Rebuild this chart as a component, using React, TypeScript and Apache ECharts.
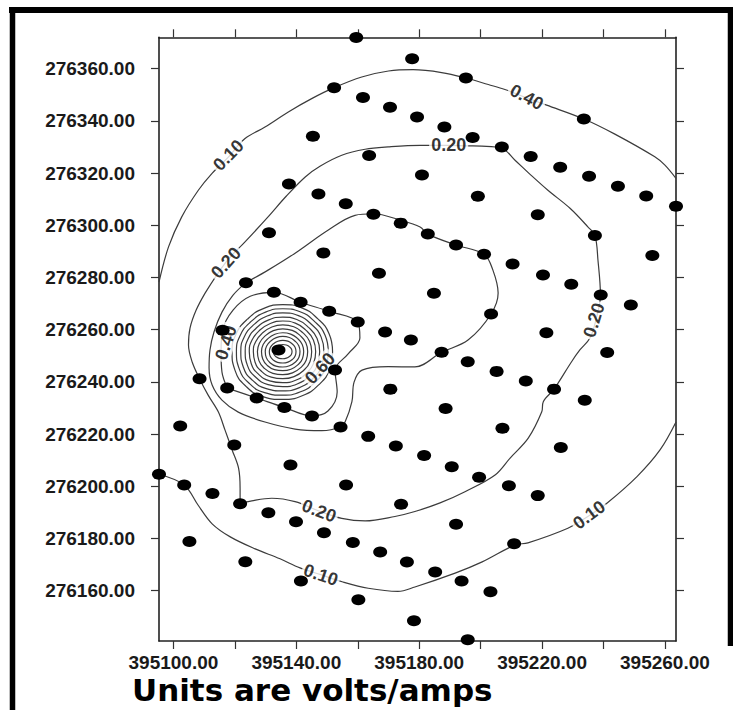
import React, { useEffect, useRef } from "react";
import * as echarts from "echarts";

const X_MIN = 395095.3;
const X_MAX = 395263.6;
const Y_MIN = 276140.7;
const Y_MAX = 276372.0;

const xTickValues = [395100, 395120, 395140, 395160, 395180, 395200, 395220, 395240, 395260];
const xLabelValues = [395100, 395140, 395180, 395220, 395260];
const yTickValues = [276160, 276180, 276200, 276220, 276240, 276260, 276280, 276300, 276320, 276340, 276360];

const stations: [number, number][] = [
  [395159.5, 276371.9], [395177.7, 276363.8], [395152.3, 276352.7], [395161.7, 276348.9], [395170.5, 276345.2],
  [395179.3, 276341.5], [395145.4, 276334.1], [395163.7, 276326.7], [395180.9, 276319.2], [395137.6, 276315.8],
  [395147.2, 276312.0], [395156.1, 276308.2], [395165.1, 276304.2], [395174.0, 276300.8], [395131.1, 276297.1],
  [395148.8, 276289.4], [395166.9, 276281.6], [395123.6, 276278.0], [395132.7, 276274.3], [395141.4, 276270.5],
  [395150.7, 276267.0], [395160.0, 276262.9], [395168.9, 276259.1], [395177.3, 276256.0], [395116.0, 276259.8],
  [395195.2, 276356.4], [395233.6, 276340.7], [395188.2, 276337.6], [395197.4, 276333.6], [395206.9, 276330.0],
  [395216.3, 276326.3], [395225.9, 276322.2], [395235.3, 276318.8], [395244.7, 276314.9], [395253.9, 276311.2],
  [395263.6, 276307.3], [395199.1, 276311.1], [395218.6, 276304.0], [395237.2, 276296.1], [395255.9, 276288.4],
  [395182.8, 276296.6], [395192.0, 276292.4], [395201.1, 276288.9], [395210.4, 276285.1], [395220.3, 276280.9],
  [395229.5, 276277.4], [395239.1, 276273.3], [395248.9, 276269.4], [395184.8, 276273.9], [395203.4, 276266.0],
  [395221.4, 276258.8], [395134.2, 276252.2], [395152.6, 276244.5], [395108.5, 276241.2], [395117.5, 276237.6],
  [395127.1, 276233.8], [395136.1, 276230.2], [395145.1, 276226.9], [395154.4, 276222.7], [395170.6, 276237.2],
  [395102.2, 276223.1], [395119.8, 276215.8], [395163.4, 276219.1], [395172.4, 276215.4], [395181.6, 276211.8],
  [395138.1, 276208.1], [395156.2, 276200.5], [395095.3, 276204.6], [395103.5, 276200.5], [395112.7, 276197.2],
  [395121.7, 276193.3], [395130.9, 276189.8], [395139.9, 276186.4], [395149.0, 276182.2], [395158.4, 276178.4],
  [395167.3, 276174.8], [395176.0, 276171.0], [395174.1, 276193.1], [395105.2, 276178.8], [395123.4, 276171.1],
  [395141.5, 276163.7], [395160.2, 276156.5], [395178.3, 276148.5], [395187.3, 276251.3], [395195.8, 276247.7],
  [395205.2, 276244.0], [395214.7, 276240.3], [395223.9, 276237.2], [395233.9, 276232.9], [395241.2, 276251.2],
  [395188.6, 276229.8], [395207.1, 276222.2], [395226.1, 276214.8], [395190.6, 276207.5], [395199.5, 276203.4],
  [395209.2, 276200.2], [395218.6, 276196.4], [395192.0, 276185.4], [395210.9, 276178.0], [395185.2, 276167.1],
  [395193.8, 276163.7], [395203.2, 276159.6], [395195.8, 276141.2],
];

// Outer contour across the top (labelled 0.10 on the left, 0.40 on the right)
const contourTop: [number, number][] = [
  [395095.3, 276278.2], [395098.4, 276291.7], [395102.7, 276303.2], [395108.1, 276313.4], [395112.5, 276319.8],
  [395117.8, 276326.0], [395123.3, 276333.2], [395129.8, 276337.6], [395137.4, 276343.4], [395145.0, 276348.5],
  [395152.3, 276352.7], [395161.3, 276356.8], [395170.0, 276359.1], [395178.0, 276359.6], [395187.3, 276358.5],
  [395195.2, 276356.4], [395202.5, 276353.9], [395207.9, 276352.0], [395215.0, 276348.8], [395221.5, 276346.0],
  [395233.6, 276340.7], [395243.7, 276334.9], [395256.7, 276326.2], [395260.0, 276323.0], [395263.6, 276317.9],
];

// Lower 0.10 contour
const contourBottom: [number, number][] = [
  [395095.3, 276204.6], [395103.5, 276200.5], [395108.0, 276192.8], [395112.6, 276185.6], [395118.5, 276180.6],
  [395126.6, 276176.0], [395134.7, 276172.2], [395141.2, 276168.7], [395147.7, 276166.2], [395154.9, 276163.4],
  [395163.4, 276160.9], [395173.1, 276159.7], [395178.6, 276161.4], [395191.7, 276166.7], [395200.5, 276171.0],
  [395211.2, 276177.5], [395215.4, 276178.3], [395228.4, 276183.9], [395234.9, 276188.4], [395241.1, 276193.5],
  [395250.9, 276203.7], [395258.4, 276213.9], [395263.6, 276224.6],
];

// Large closed 0.20 contour
const contour020: [number, number][] = [
  [395110.3, 276274.0], [395117.1, 276285.9], [395123.3, 276293.6], [395130.8, 276303.2], [395136.7, 276311.1],
  [395142.9, 276318.5], [395147.7, 276322.6], [395154.8, 276326.8], [395162.4, 276329.1], [395169.9, 276330.0],
  [395180.3, 276330.6], [395189.4, 276330.6], [395195.6, 276330.4], [395200.4, 276330.3], [395206.9, 276329.5],
  [395211.2, 276324.9], [395216.1, 276319.5], [395221.9, 276313.4], [395229.1, 276306.5], [395234.9, 276299.4],
  [395237.2, 276296.1], [395238.2, 276286.6], [395239.0, 276273.3], [395237.5, 276263.6], [395235.6, 276256.8],
  [395232.3, 276252.2], [395229.6, 276247.7], [395223.9, 276237.2], [395220.4, 276232.4], [395219.9, 276228.5],
  [395215.5, 276218.4], [395209.6, 276210.8], [395204.7, 276204.3], [395194.9, 276197.9], [395186.8, 276193.6],
  [395178.6, 276190.3], [395172.1, 276188.4], [395162.4, 276186.7], [395154.8, 276187.7], [395147.4, 276190.5],
  [395139.6, 276194.1], [395132.0, 276195.4], [395125.5, 276194.4], [395121.7, 276193.3], [395121.7, 276199.2],
  [395121.2, 276206.9], [395119.1, 276213.9], [395116.8, 276221.5], [395114.6, 276228.5], [395111.3, 276234.9],
  [395108.5, 276241.2], [395106.1, 276247.6], [395104.9, 276254.1], [395105.4, 276260.6], [395107.4, 276267.5],
  [395110.3, 276274.0],
];

// Inner closed loop reaching east
const contourInner: [number, number][] = [
  [395123.6, 276278.0], [395130.8, 276282.8], [395139.6, 276289.3], [395150.3, 276298.1], [395159.1, 276303.8],
  [395165.1, 276304.4], [395174.0, 276301.9], [395180.3, 276299.3], [395182.8, 276296.6], [395192.0, 276292.4],
  [395201.1, 276288.9], [395204.0, 276282.8], [395205.7, 276274.0], [395203.4, 276266.0], [395195.9, 276256.0],
  [395187.3, 276251.3], [395178.6, 276245.7], [395169.9, 276245.8], [395161.4, 276244.5], [395158.8, 276239.9],
  [395158.1, 276232.4], [395155.9, 276224.7], [395154.4, 276222.7], [395148.3, 276221.3], [395139.6, 276221.9],
  [395129.8, 276224.6], [395121.1, 276228.4], [395115.8, 276233.0], [395112.6, 276238.8], [395111.6, 276245.3],
  [395111.9, 276252.2], [395113.2, 276259.1], [395115.8, 276266.7], [395119.4, 276273.2], [395123.6, 276278.0],
];

// 0.40 ring around the anomaly
const contour040: [number, number][] = [
  [395117.5, 276237.6], [395127.1, 276233.8], [395136.1, 276230.2], [395145.1, 276226.9], [395150.3, 276228.8],
  [395153.3, 276236.1], [395152.6, 276244.5], [395156.8, 276250.6], [395160.7, 276256.8], [395160.0, 276262.9],
  [395150.7, 276267.0], [395141.4, 276270.5], [395132.7, 276274.3], [395125.0, 276272.8], [395119.4, 276267.5],
  [395116.0, 276259.8], [395115.5, 276251.4], [395115.8, 276243.7], [395117.5, 276237.6],
];

// Tight rings around the anomaly peak: centre, read ring half-widths and shape
const peakCenter: [number, number] = [395135.6, 276251.6];
const ringRx = [16.2, 14.8, 13.4, 12.0, 10.7, 9.4, 8.1, 6.8, 5.6, 4.3, 3.0];
const ringRy = [18.0, 16.4, 14.8, 13.2, 11.7, 10.2, 8.7, 7.2, 5.8, 4.3, 2.7];
const ringShape: [number, number][] = [
  [1.0, 0.0], [0.93, 0.38], [0.7, 0.7], [0.38, 0.93], [0.0, 1.0], [-0.38, 0.92], [-0.71, 0.69], [-0.94, 0.37],
  [-1.02, 0.0], [-0.96, -0.4], [-0.74, -0.74], [-0.4, -0.96], [0.0, -1.02], [0.39, -0.94], [0.72, -0.71],
  [0.94, -0.38], [1.0, 0.0],
];

const contourLabels: { pos: [number, number]; text: string; angle: number }[] = [
  { pos: [395117.9, 276326.8], text: "0.10", angle: 46 },
  { pos: [395215.0, 276349.1], text: "0.40", angle: -28 },
  { pos: [395189.6, 276330.6], text: "0.20", angle: 0 },
  { pos: [395117.1, 276285.6], text: "0.20", angle: 48 },
  { pos: [395236.9, 276263.6], text: "0.20", angle: 73 },
  { pos: [395147.4, 276190.5], text: "0.20", angle: -21 },
  { pos: [395148.0, 276166.0], text: "0.10", angle: -19 },
  { pos: [395235.3, 276189.0], text: "0.10", angle: 37 },
  { pos: [395117.1, 276255.0], text: "0.40", angle: 72 },
  { pos: [395147.7, 276245.2], text: "0.60", angle: 47 },
];

const FONT = "'Liberation Sans', Arial, Helvetica, sans-serif";
const TITLE_FONT = "'DejaVu Sans', 'Liberation Sans', Arial, sans-serif";
const LINE_COLOR = "#3c3c3c";

export default function App() {
  const ref = useRef<HTMLDivElement>(null);

  useEffect(() => {
    document.body.style.margin = "0";
    if (!ref.current) return;
    const chart = echarts.init(ref.current, undefined, { renderer: "svg" });

    const lineSeries = (data: [number, number][], smooth = 0.35) => ({
      type: "line",
      data,
      showSymbol: false,
      symbol: "none",
      smooth,
      silent: true,
      z: 2,
      lineStyle: { color: LINE_COLOR, width: 1.2 },
    });

    const rings = ringRx.map((rx, i) =>
      lineSeries(
        ringShape.map(([ux, uy]) => [peakCenter[0] + ux * rx, peakCenter[1] + uy * ringRy[i]] as [number, number]),
        0.5
      )
    );

    const axisLineStyle = { color: "#222", width: 1.6 };
    const tickStyle = { color: "#333", width: 1.2 };
    const labelStyle = {
      fontFamily: FONT,
      fontWeight: "bold",
      fontSize: 19,
      color: "#1a1a1a",
    };

    chart.setOption({
      animation: false,
      backgroundColor: "#fff",
      grid: { left: 159, right: 57, top: 37.3, bottom: 69, containLabel: false },
      xAxis: [
        {
          type: "value",
          min: X_MIN,
          max: X_MAX,
          position: "bottom",
          axisLine: { show: true, lineStyle: axisLineStyle },
          axisTick: { show: true, inside: false, length: 8, customValues: xTickValues, lineStyle: tickStyle },
          axisLabel: {
            show: true,
            customValues: xLabelValues,
            formatter: (v: number) => v.toFixed(2),
            margin: 12,
            ...labelStyle,
          },
          splitLine: { show: false },
        },
        {
          type: "value",
          min: X_MIN,
          max: X_MAX,
          position: "top",
          axisLine: { show: true, lineStyle: axisLineStyle },
          axisTick: { show: true, inside: false, length: 8, customValues: xTickValues, lineStyle: tickStyle },
          axisLabel: { show: false },
          splitLine: { show: false },
        },
      ],
      yAxis: [
        {
          type: "value",
          min: Y_MIN,
          max: Y_MAX,
          position: "left",
          axisLine: { show: true, lineStyle: axisLineStyle },
          axisTick: { show: true, inside: false, length: 8, customValues: yTickValues, lineStyle: tickStyle },
          axisLabel: {
            show: true,
            customValues: yTickValues,
            formatter: (v: number) => v.toFixed(2),
            margin: 24,
            ...labelStyle,
          },
          splitLine: { show: false },
        },
        {
          type: "value",
          min: Y_MIN,
          max: Y_MAX,
          position: "right",
          axisLine: { show: true, lineStyle: axisLineStyle },
          axisTick: { show: true, inside: false, length: 8, customValues: yTickValues, lineStyle: tickStyle },
          axisLabel: { show: false },
          splitLine: { show: false },
        },
      ],
      series: [
        lineSeries(contourTop),
        lineSeries(contourBottom),
        lineSeries(contour020),
        lineSeries(contourInner),
        lineSeries(contour040),
        ...rings,
        {
          type: "scatter",
          silent: true,
          z: 3,
          symbolSize: 1,
          itemStyle: { color: "rgba(0,0,0,0)" },
          clip: false,
          data: contourLabels.map((l) => ({
            value: l.pos,
            label: {
              show: true,
              position: "inside",
              formatter: l.text,
              rotate: l.angle,
              fontFamily: FONT,
              fontWeight: "bold",
              fontSize: 18,
              color: "#000",
              backgroundColor: "#fff",
              padding: [0, 2],
            },
          })),
        },
        {
          type: "scatter",
          silent: true,
          z: 4,
          clip: false,
          symbol: "circle",
          symbolSize: [14, 11],
          itemStyle: { color: "#000", opacity: 1 },
          data: stations,
        },
      ],
      graphic: [
        {
          type: "text",
          left: 132,
          top: 674,
          z: 50,
          style: {
            text: "Units are volts/amps",
            fontFamily: TITLE_FONT,
            fontWeight: "bold",
            fontSize: 31,
            fill: "#000",
          },
        },
        {
          type: "rect",
          z: 90,
          shape: { x: 716, y: 648, width: 17, height: 28 },
          style: { fill: "#fff" },
        },
        {
          type: "line",
          z: 100,
          shape: { x1: 9, y1: 10, x2: 733, y2: 10 },
          style: { stroke: "#000", lineWidth: 6 },
        },
        {
          type: "line",
          z: 100,
          shape: { x1: 12.5, y1: 7, x2: 12.5, y2: 710 },
          style: { stroke: "#000", lineWidth: 5.5 },
        },
        {
          type: "line",
          z: 100,
          shape: { x1: 730.5, y1: 7, x2: 730.5, y2: 646 },
          style: { stroke: "#000", lineWidth: 5.5 },
        },
      ],
    });

    return () => chart.dispose();
  }, []);

  return <div ref={ref} style={{ width: 733, height: 710 }} />;
}
